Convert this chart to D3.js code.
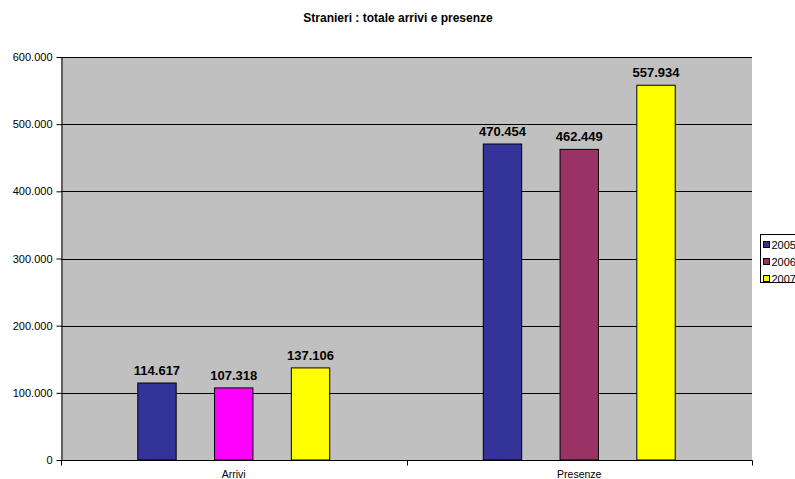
<!DOCTYPE html>
<html>
<head>
<meta charset="utf-8">
<script src="https://cdn.jsdelivr.net/npm/d3@7"></script>
<style>
  html, body { margin: 0; padding: 0; background: #fff; overflow: hidden; }
  svg { display: block; font-family: Arial, "Liberation Sans", sans-serif; }
</style>
</head>
<body>
<svg id="chart" width="795" height="479"></svg>
<script>
// Chart data
const categories = ["Arrivi", "Presenze"];
const years = ["2005", "2006", "2007"];
const values2005 = [114617, 470454];
const values2006 = [107318, 462449];
const values2007 = [137106, 557934];
const seriesColors = ["#333399", "#993366", "#FFFF00"];
// Single bar with its own fill (Arrivi 2006)
const pointColors2006 = ["#FF00FF", null];
const yTicks = [0, 100000, 200000, 300000, 400000, 500000, 600000];

const series = [values2005, values2006, values2007];
const pointColors = [[null, null], pointColors2006, [null, null]];

const fmt = v => v === 0 ? "0" : d3.format(",.0f")(v).replace(/,/g, ".");

const svg = d3.select("#chart");
const plot = { left: 61, right: 752, top: 57, bottom: 460 };

const x0 = d3.scaleBand().domain(categories).range([plot.left, plot.right]).paddingInner(0).paddingOuter(0);
const x1 = d3.scaleBand().domain(years).range([0, x0.bandwidth()]).paddingInner(0.5).paddingOuter(1);
const y = d3.scaleLinear().domain([0, 600000]).range([plot.bottom, plot.top]);

// Title
svg.append("text")
  .attr("x", 398).attr("y", 22)
  .attr("text-anchor", "middle")
  .style("font-size", "12px").style("font-weight", "bold")
  .text("Stranieri : totale arrivi e presenze");

// Plot background
svg.append("rect")
  .attr("x", plot.left).attr("y", plot.top)
  .attr("width", plot.right - plot.left).attr("height", plot.bottom - plot.top)
  .attr("fill", "#C0C0C0");

// Gridlines
svg.append("g").selectAll("line").data(yTicks.filter(t => t > 0)).join("line")
  .attr("x1", plot.left).attr("x2", plot.right)
  .attr("y1", d => Math.round(y(d)) + 0.5).attr("y2", d => Math.round(y(d)) + 0.5)
  .attr("stroke", "#000").attr("stroke-width", 1);

// Y axis
const yAxis = svg.append("g")
  .attr("transform", `translate(${plot.left + 0.5},0)`)
  .call(d3.axisLeft(y).tickValues(yTicks).tickFormat(fmt).tickSize(5).tickSizeOuter(0));
yAxis.select(".domain").attr("stroke", "#000");
yAxis.selectAll(".tick line").attr("stroke", "#000");
yAxis.selectAll(".tick text").attr("x", -9).style("font-size", "11px").style("font-family", "Arial, 'Liberation Sans', sans-serif").attr("fill", "#000");

// X axis
const xAxisG = svg.append("g").attr("transform", `translate(0,${plot.bottom + 0.5})`);
xAxisG.append("line").attr("x1", plot.left).attr("x2", plot.right + 0.5).attr("stroke", "#000");
const bounds = [plot.left, plot.left + x0.bandwidth(), plot.right];
xAxisG.selectAll("line.tk").data(bounds).join("line").attr("class", "tk")
  .attr("x1", d => Math.round(d) + 0.5).attr("x2", d => Math.round(d) + 0.5)
  .attr("y1", 0).attr("y2", 5).attr("stroke", "#000");
xAxisG.selectAll("text").data(categories).join("text")
  .attr("x", d => x0(d) + x0.bandwidth() / 2).attr("y", 17)
  .attr("text-anchor", "middle").style("font-size", "10.5px")
  .text(d => d);

// Bars
const bars = [];
categories.forEach((c, ci) => {
  years.forEach((yr, si) => {
    bars.push({ cat: c, year: yr, value: series[si][ci], color: pointColors[si][ci] || seriesColors[si] });
  });
});

const barG = svg.append("g");
barG.selectAll("rect").data(bars).join("rect")
  .attr("x", d => x0(d.cat) + x1(d.year))
  .attr("y", d => y(d.value))
  .attr("width", x1.bandwidth())
  .attr("height", d => plot.bottom - y(d.value))
  .attr("fill", d => d.color)
  .attr("stroke", "#000").attr("stroke-width", 1);

barG.selectAll("text").data(bars).join("text")
  .attr("x", d => x0(d.cat) + x1(d.year) + x1.bandwidth() / 2)
  .attr("y", d => y(d.value) - 8)
  .attr("text-anchor", "middle")
  .style("font-size", "13px").style("font-weight", "bold")
  .text(d => fmt(d.value));

// Legend
const leg = svg.append("g").attr("transform", "translate(760.5,234.5)");
leg.append("rect").attr("width", 60).attr("height", 48).attr("fill", "#fff").attr("stroke", "#000");
years.forEach((yr, i) => {
  const gy = 7 + i * 17;
  leg.append("rect").attr("x", 3).attr("y", gy).attr("width", 6).attr("height", 6)
    .attr("fill", seriesColors[i]).attr("stroke", "#000");
  leg.append("text").attr("x", 11).attr("y", gy + 7).style("font-size", "11px").text(yr);
});
</script>
</body>
</html>
